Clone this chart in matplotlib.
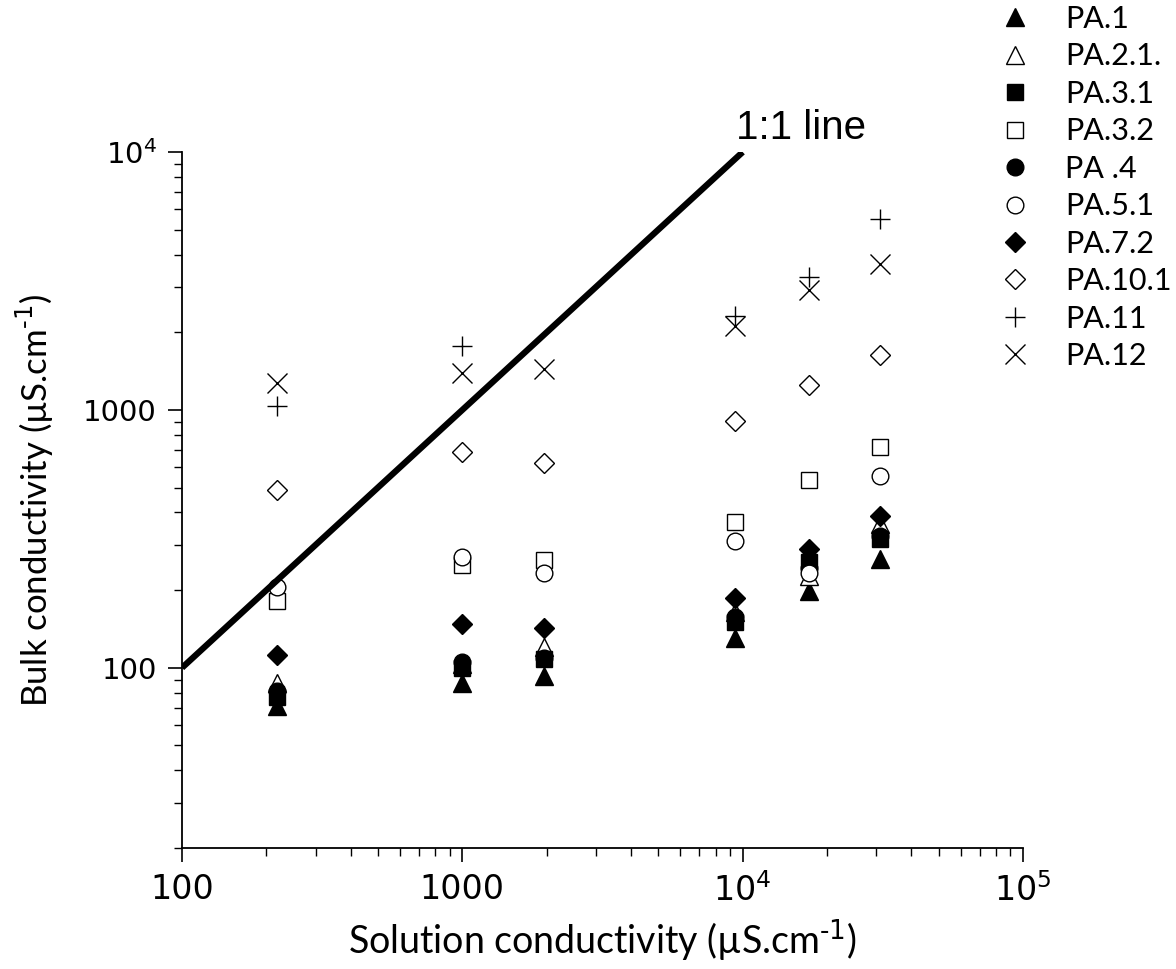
import numpy as np
import matplotlib
matplotlib.use("Agg")
import matplotlib.pyplot as plt
from matplotlib.ticker import LogLocator, NullFormatter

# solution conductivity (x) for the six test solutions
solution = [218, 1000, 1950, 9400, 17300, 30800]

# bulk conductivity per sample
pa_1 = [71, 87, 93, 131, 199, 265]
pa_2_1 = [87, 103, 120, 165, 226, 362]
pa_3_1 = [77, 100, 108, 151, 256, 317]
pa_3_2 = [182, 250, 261, 369, 537, 715]
pa_4 = [81, 105, 109, 157, 244, 325]
pa_5_1 = [205, 270, 234, 311, 232, 552]
pa_7_2 = [112, 148, 142, 187, 290, 389]
pa_10_1 = [487, 684, 620, 902, 1245, 1628]
pa_11 = [1032, 1765, np.nan, 2310, 3270, 5490]
pa_12 = [1268, 1386, 1436, 2110, 2910, 3670]

labels = ['PA.1', 'PA.2.1.', 'PA.3.1', 'PA.3.2', 'PA .4', 'PA.5.1', 'PA.7.2', 'PA.10.1', 'PA.11', 'PA.12']
series = [pa_1, pa_2_1, pa_3_1, pa_3_2, pa_4, pa_5_1, pa_7_2, pa_10_1, pa_11, pa_12]

# marker, filled?, size
styles = [('^', True, 13), ('^', False, 13), ('s', True, 11.5), ('s', False, 11.5),
          ('o', True, 12), ('o', False, 12), ('D', True, 10.5), ('D', False, 10.5),
          ('+', True, 15), ('x', True, 15)]

one_to_one = [100, 10000]

fig = plt.figure(figsize=(11.76, 9.69), dpi=100)
ax = fig.add_axes([0.1548, 0.1249, 0.7151, 0.7182])

handles = []
for vals, lab, (m, filled, ms) in zip(series, labels, styles):
    face = 'black' if filled else 'white'
    h, = ax.plot(solution, vals, linestyle='none', marker=m, markersize=ms,
                 markerfacecolor=face, markeredgecolor='black', markeredgewidth=1.0,
                 label=lab, zorder=2)
    handles.append(h)

ax.plot(one_to_one, one_to_one, color='black', linewidth=4.5, zorder=3,
        solid_capstyle='butt')
ax.text(9500, 12400, '1:1 line', fontsize=29, family='Liberation Sans',
        ha='left', va='center', clip_on=False)

ax.set_xscale('log')
ax.set_yscale('log')
ax.set_xlim(100, 1e5)
ax.set_ylim(20, 1e4)

ax.set_xticks([100, 1000, 1e4, 1e5])
ax.set_xticklabels(['100', '1000', r'$10^4$', r'$10^5$'])
ax.set_yticks([100, 1000, 1e4])
ax.set_yticklabels(['100', '1000', r'$10^4$'])
ax.xaxis.set_minor_locator(LogLocator(base=10, subs=np.arange(2, 10)))
ax.yaxis.set_minor_locator(LogLocator(base=10, subs=np.arange(2, 10)))
ax.xaxis.set_minor_formatter(NullFormatter())
ax.yaxis.set_minor_formatter(NullFormatter())

ax.tick_params(which='major', direction='out', length=10, width=1.2, pad=8)
ax.tick_params(axis='x', which='major', labelsize=24)
ax.tick_params(axis='y', which='major', labelsize=21)
ax.tick_params(which='minor', direction='out', length=6, width=1.0)
for lab in ax.get_xticklabels() + ax.get_yticklabels():
    lab.set_family('DejaVu Sans')

for side in ['top', 'right']:
    ax.spines[side].set_visible(False)
for side in ['left', 'bottom']:
    ax.spines[side].set_linewidth(1.3)

ax.set_xlabel(r'Solution conductivity (µS.cm$^{\text{-1}}$)', fontsize=27, family='Lato', labelpad=7)
ax.set_ylabel(r'Bulk conductivity (µS.cm$^{\text{-1}}$)', fontsize=25, family='Lato', labelpad=20)

fig.legend(handles, labels, loc='upper left', bbox_to_anchor=(0.8501, 0.995),
           frameon=False, numpoints=1, handlelength=1.0, handletextpad=1.13,
           labelspacing=0.31, borderpad=0, borderaxespad=0,
           prop={'family': 'Lato', 'size': 22})

fig.savefig('out.png', dpi=100)
